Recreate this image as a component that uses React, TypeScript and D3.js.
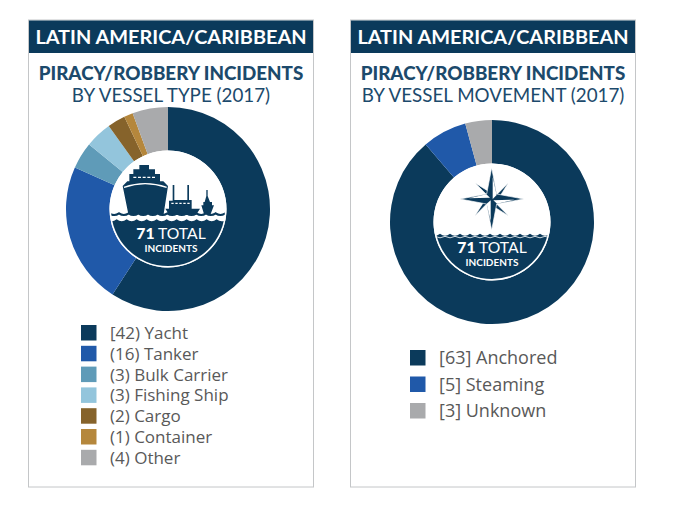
import * as d3 from 'd3';

const HEADER = 'LATIN AMERICA/CARIBBEAN';
const TITLE = 'PIRACY/ROBBERY INCIDENTS';
const TOTAL = 71;

const typeLabels = ['[42) Yacht', '(16) Tanker', '(3) Bulk Carrier', '(3) Fishing Ship', '(2) Cargo', '(1) Container', '(4) Other'];
const typeValues = [42, 16, 3, 3, 2, 1, 4];
const typeColors = ['#0b3a5b', '#2059a9', '#5f9bb8', '#93c5dc', '#86632b', '#b5873c', '#a9aaac'];

const moveLabels = ['[63] Anchored', '[5] Steaming', '[3] Unknown'];
const moveValues = [63, 5, 3];
const moveColors = ['#0b3a5b', '#2059a9', '#a9aaac'];

const NAVY = '#0b3a5b';
const TITLE_COL = '#1c4a6c';
const R_OUT = 102;
const R_IN = 58.5;

interface Slice { value: number; color: string }

function Donut({ cx, cy, values, colors }: { cx: number; cy: number; values: number[]; colors: string[] }) {
  const pie = d3.pie<Slice>().value(d => d.value).sort(null);
  const arc = d3.arc<d3.PieArcDatum<Slice>>().innerRadius(R_IN).outerRadius(R_OUT);
  const arcs = pie(values.map((value, i) => ({ value, color: colors[i] })));
  return (
    <g transform={`translate(${cx},${cy})`}>
      {arcs.map((a, i) => <path key={i} d={arc(a) ?? ''} fill={a.data.color} />)}
    </g>
  );
}

// scalloped water line, closed far below so the circle clip cuts it
function waves(x0: number, x1: number, y: number, step: number, amp: number, closeTo?: number) {
  const p = d3.path();
  p.moveTo(x0, y);
  for (let x = x0; x < x1; x += step) {
    p.quadraticCurveTo(x + step / 2, y - amp, x + step, y);
  }
  if (closeTo !== undefined) {
    p.lineTo(x1 + step, closeTo);
    p.lineTo(x0, closeTo);
    p.closePath();
  }
  return p.toString();
}

function TotalText({ x, y }: { x: number; y: number }) {
  return (
    <g textAnchor="middle" fill="#fff" fontFamily="Lato">
      <text x={x} y={y} fontSize="15.7"><tspan fontWeight="900">{TOTAL}</tspan> TOTAL</text>
      <text x={x} y={y + 13} fontSize="10" fontWeight="700">INCIDENTS</text>
    </g>
  );
}

function ShipBadge({ cx, cy, id }: { cx: number; cy: number; id: string }) {
  return (
    <g transform={`translate(${cx},${cy})`}>
      <clipPath id={id}><circle r={R_IN - 1.5} /></clipPath>
      <circle r={R_IN} fill="#fff" />
      <g clipPath={`url(#${id})`}>
        {/* icon drawn in 3x units */}
        <g transform="scale(0.3333) translate(-204,-177)">
          <path fill={NAVY} d="M118 45H147V58H165V72H180V94H190L204 108L191 192H85L68 108L82 94H88V72H100V58H118Z" />
          <path fill="none" stroke="#fff" strokeWidth="4" d="M72 112Q135 90 200 112" />
          <path fill="none" stroke="#fff" strokeWidth="3.5" strokeDasharray="9 5" d="M100 82H170" />
          <path fill={NAVY} d="M218 105H223V150H262V105H267V150H275V176H300L288 195H208L196 176H207V152H218Z" />
          <path fill="none" stroke="#fff" strokeWidth="4" strokeDasharray="7 5" d="M214 160H270" />
          <path fill={NAVY} d="M319 120H323V138L330 156H336V166H342L332 192H312L304 166H310V156H314L319 138Z" />
          <path fill="none" stroke={NAVY} strokeWidth="6" d={waves(28, 376, 190, 29, -10)} />
          <path fill={NAVY} d={waves(20, 384, 208, 30, -12, 380)} />
        </g>
        <TotalText x={3} y={30} />
      </g>
    </g>
  );
}

function CompassBadge({ cx, cy, id }: { cx: number; cy: number; id: string }) {
  return (
    <g transform={`translate(${cx},${cy})`}>
      <clipPath id={id}><circle r={R_IN - 1.5} /></clipPath>
      <circle r={R_IN} fill="#fff" />
      <g clipPath={`url(#${id})`}>
        <g transform="scale(0.3333) translate(-201,-201)">
          <path fill={NAVY} stroke="#fff" strokeWidth="2" d="M150 84L212 122L250 84L212 144L250 182L188 144L150 182L188 122Z" />
          <path fill={NAVY} stroke="#fff" strokeWidth="2" d="M200 38L215 117L296 132L215 147L200 226L185 147L105 132L185 117Z" />
          <path fill="#fff" d="M203 132L215 120L203 66Z" />
          <path fill="#fff" d="M197 136L185 146L197 198Z" />
          <path fill="#fff" d="M205 136L216 146L268 134Z" />
          <path fill="#fff" d="M195 128L184 118L132 130Z" />
          <path fill={NAVY} d={waves(15, 385, 236, 30, -12, 400)} />
          <path fill="none" stroke="#fff" strokeWidth="2.5" d={waves(30, 370, 244, 30, -9)} />
        </g>
        <TotalText x={0} y={31} />
      </g>
    </g>
  );
}

function Panel({ x, sub, cx, cy, values, colors, labels, lx, ly, step, size, badge }: {
  x: number; sub: string; cx: number; cy: number; values: number[]; colors: string[]; labels: string[];
  lx: number; ly: number; step: number; size: number; badge: React.ReactNode;
}) {
  const w = 286;
  const y = d3.scaleLinear().domain([0, 1]).range([ly, ly + step]);
  return (
    <g>
      <rect x={x + 0.5} y={20} width={w - 1} height={467} fill="#fff" stroke="#c4c6c8" />
      <rect x={x + 1} y={20.5} width={w - 2} height={32.5} fill={NAVY} />
      <text x={x + w / 2} y={44} textAnchor="middle" fill="#fff" fontFamily="Lato" fontWeight="700" fontSize="19.9">{HEADER}</text>
      <text x={x + w / 2} y={79.5} textAnchor="middle" fill={TITLE_COL} fontFamily="Lato" fontWeight="900" fontSize="18.8">{TITLE}</text>
      <text x={x + w / 2} y={101.5} textAnchor="middle" fill={TITLE_COL} fontFamily="Lato" fontSize="18.8">{sub}</text>
      <Donut cx={cx} cy={cy} values={values} colors={colors} />
      {badge}
      {labels.map((l, i) => (
        <g key={l}>
          <rect x={lx} y={y(i) - 8} width={15.5} height={15.5} fill={colors[i]} />
          <text x={lx + 29} y={y(i) + 6} fontFamily="Open Sans" fontSize={size} fill="#595959">{l}</text>
        </g>
      ))}
    </g>
  );
}

export default function App() {
  return (
    <svg width={691} height={510} style={{ position: 'absolute', left: 0, top: 0 }}>
      <rect width={691} height={510} fill="#fff" />
      <Panel x={28} sub="BY VESSEL TYPE (2017)" cx={168} cy={209} values={typeValues} colors={typeColors} labels={typeLabels}
        lx={81} ly={333} step={20.8} size={17} badge={<ShipBadge cx={168} cy={209} id="clip-ship" />} />
      <Panel x={350} sub="BY VESSEL MOVEMENT (2017)" cx={492} cy={222} values={moveValues} colors={moveColors} labels={moveLabels}
        lx={410} ly={358} step={26.5} size={18} badge={<CompassBadge cx={492} cy={222} id="clip-compass" />} />
    </svg>
  );
}
